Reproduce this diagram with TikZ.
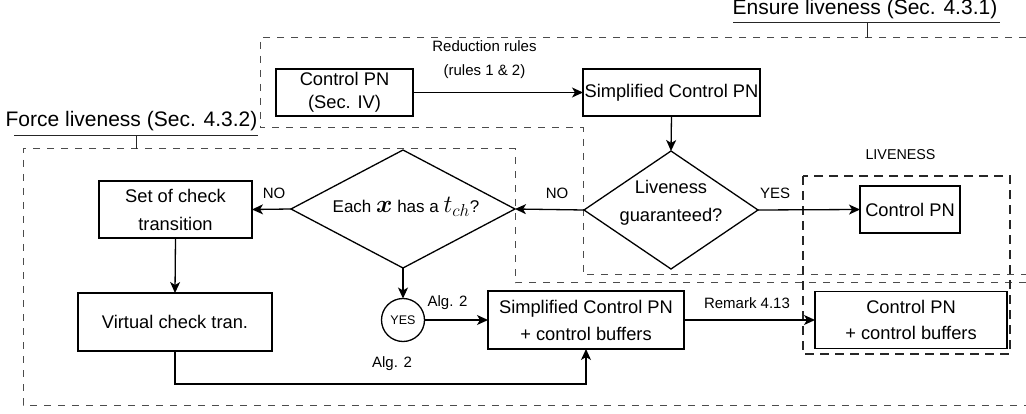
\documentclass[tikz,border=0pt]{standalone}
\usepackage{amsmath}
\usepackage{fontspec}
\setmainfont{Liberation Sans}
\usetikzlibrary{shapes.geometric,arrows.meta}

\begin{document}
\begin{tikzpicture}[x=1pt,y=-1pt,
  every node/.style={inner sep=0pt, outer sep=0pt},
  blk/.style={draw, line width=1.3pt, align=center, font=\fontsize{18.3}{27}\selectfont},
  dec/.style={draw, diamond, line width=1.3pt},
  txt/.style={align=center, font=\fontsize{18.3}{28}\selectfont},
  lbl/.style={font=\fontsize{15}{24}\selectfont, align=center},
  hdr/.style={font=\fontsize{21}{25}\selectfont, anchor=base},
  arr/.style={line width=1.3pt, -{Stealth[length=11pt,width=10pt,inset=3pt]}},
  region/.style={draw=black!70, line width=1pt, dash pattern=on 7pt off 7pt},
  zone/.style={draw=black!85, line width=1.5pt, dash pattern=on 9pt off 6pt},
  brace/.style={draw=black!85, line width=1pt}
]
\useasboundingbox (0,0) rectangle (1026,414);
\clip (0,0) rectangle (1026,414);

% dashed regions (they run past the right edge)
\draw[region] (1040,38) -- (260,38) -- (260,128) -- (583,128) -- (583,275) -- (1040,275);
\draw[region] (1040,283) -- (515,283) -- (515,149) -- (23,149) -- (23,405) -- (1040,405);
\draw[zone] (803,176) rectangle (1010,354);

% region headers with their underline brackets
\node[hdr] (hens) at (865,15) {Ensure liveness (Sec. 4.3.1)};
\coordinate (ensL) at (733,23);
\coordinate (ensR) at (1000,23);
\coordinate (ensT) at (867,23);
\coordinate (ensB) at (867,38);
\draw[brace] (ensL) -- (ensR) (ensT) -- (ensB);

\node[hdr] (hforce) at (131.5,127) {Force liveness (Sec. 4.3.2)};
\coordinate (forL) at (14,136);
\coordinate (forR) at (258,136);
\coordinate (forT) at (136,136);
\coordinate (forB) at (136,149);
\draw[brace] (forL) -- (forR) (forT) -- (forB);

\node[font=\fontsize{14.3}{18}\selectfont] (livetitle) at (900.5,155) {LIVENESS};

% blocks
\node[blk, minimum width=137pt, minimum height=47pt, font=\fontsize{18.3}{23}\selectfont] (cpn) at (344.5,92.5) {Control PN\\(Sec. IV)};
\node[blk, minimum width=177pt, minimum height=47pt] (scpn) at (671.5,92.5) {Simplified Control PN};
\node[dec, minimum width=174pt, minimum height=118pt] (live) at (671,210) {};
\node[txt] (livetxt) at (671,203) {Liveness\\guaranteed?};
\node[dec, minimum width=224pt, minimum height=118pt] (each) at (403,209) {};
\node[font=\fontsize{17}{20}\selectfont] (eachtxt) at (406,207)
  {Each {\fontsize{27}{30}\selectfont$\boldsymbol{x}$} has a {\fontsize{27}{30}\selectfont$t_{ch}$}?};
\node[blk, minimum width=100pt, minimum height=47pt] (cpnl) at (910,209.5) {Control PN};
\node[blk, minimum width=153pt, minimum height=57pt, font=\fontsize{18.3}{28}\selectfont] (setb) at (175.5,209.5) {Set of check\\transition};
\node[blk, minimum width=194pt, minimum height=58pt] (virt) at (175,322) {Virtual check tran.};
\node[draw, circle, line width=1.3pt, minimum size=43pt, font=\fontsize{12.5}{14}\selectfont] (yes) at (403,320) {YES};
\node[blk, minimum width=196pt, minimum height=58pt] (scb) at (586,320) {Simplified Control PN\\+ control buffers};
\node[blk, minimum width=192pt, minimum height=57pt, font=\fontsize{18.3}{26}\selectfont] (cpnb) at (911,320) {Control PN\\+ control buffers};

% connectors
\draw[arr] (cpn) -- (scpn);
\draw[arr] (scpn.south) -- (live.north);
\draw[arr] (live.west) -- (each.east);
\draw[arr] (live.east) -- (cpnl.west);
\draw[arr] (each.west) -- (setb.east);
\draw[arr] (setb.south) -- (virt.north);
\draw[arr] (each.south) -- (yes.north);
\draw[arr] (yes.east) -- (scb.west);
\coordinate (bend) at (175,384);
\draw[arr] (virt.south) -- (bend) -| (scb.south);
\draw[arr] (scb.east) -- (cpnb.west);

% connector labels
\node[lbl] (redlbl) at (484.5,60) {Reduction rules\\(rules 1 \& 2)};
\node[lbl] (no1) at (274,193) {NO};
\node[lbl] (no2) at (557,193) {NO};
\node[lbl] (yes1) at (775,193) {YES};
\node[lbl] (alg1) at (447.5,303) {Alg. 2};
\node[lbl] (alg2) at (392,364) {Alg. 2};
\node[lbl] (rem) at (747,303) {Remark 4.13};
\end{tikzpicture}
\end{document}
